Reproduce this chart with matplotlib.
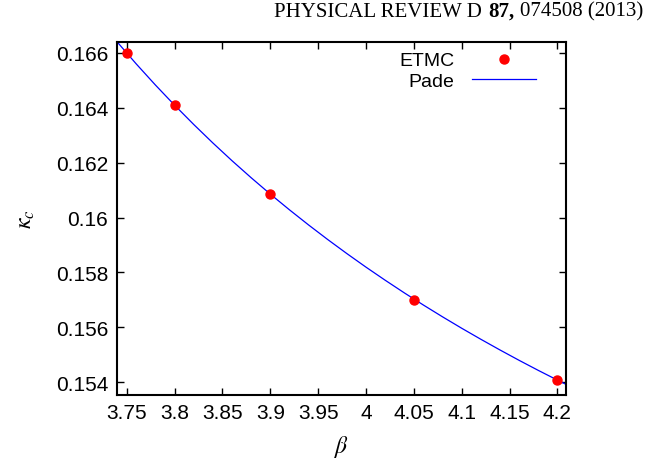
import matplotlib
matplotlib.use('Agg')
import matplotlib.pyplot as plt
from matplotlib.offsetbox import TextArea, HPacker, AnchoredOffsetbox

plt.rcParams['font.family'] = ['Liberation Sans', 'DejaVu Sans']
plt.rcParams['mathtext.fontset'] = 'stix'

# ETMC critical hopping parameter vs beta
beta_etmc = [3.75, 3.8, 3.9, 4.05, 4.2]
kappa_etmc = [0.165997, 0.164111, 0.160856, 0.157010, 0.154073]

# Pade curve, sampled along beta
beta_pade = [3.74, 3.76, 3.78, 3.80, 3.82, 3.84, 3.86, 3.88, 3.90, 3.92,
             3.94, 3.96, 3.98, 4.00, 4.02, 4.04, 4.06, 4.08, 4.10, 4.12,
             4.14, 4.16, 4.18, 4.20, 4.21]
kappa_pade = [0.166403, 0.165599, 0.164831, 0.164097, 0.163393, 0.162719,
              0.162072, 0.161452, 0.160855, 0.160282, 0.159730, 0.159198,
              0.158686, 0.158191, 0.157715, 0.157254, 0.156809, 0.156379,
              0.155963, 0.155561, 0.155171, 0.154793, 0.154427, 0.154073,
              0.153899]

xticks = [3.75, 3.8, 3.85, 3.9, 3.95, 4.0, 4.05, 4.1, 4.15, 4.2]
xticklabels = ['3.75', '3.8', '3.85', '3.9', '3.95', '4', '4.05', '4.1', '4.15', '4.2']
yticks = [0.154, 0.156, 0.158, 0.16, 0.162, 0.164, 0.166]
yticklabels = ['0.154', '0.156', '0.158', '0.16', '0.162', '0.164', '0.166']

fig = plt.figure(figsize=(6.5, 4.64), dpi=100)
ax = fig.add_axes([0.1795, 0.1472, 0.6913, 0.7601])

ax.plot(beta_etmc, kappa_etmc, 'o', color='red', markersize=6.5, label='ETMC', zorder=3)
ax.plot(beta_pade, kappa_pade, '-', color='blue', linewidth=0.9, label='Pade', zorder=2)

ax.set_xlim(3.7395, 4.209)
ax.set_ylim(0.15354, 0.1664)
ax.set_xticks(xticks)
ax.set_xticklabels(xticklabels)
ax.set_yticks(yticks)
ax.set_yticklabels(yticklabels)
ax.tick_params(direction='in', length=5, width=1, top=True, right=True,
               labelsize=15, pad=6)
for s in ax.spines.values():
    s.set_linewidth(1.5)

ax.set_xlabel(r'$\beta$', fontsize=17, labelpad=8)
ax.set_ylabel(r'$\kappa_c$', fontsize=17, labelpad=14)

leg = ax.legend(loc='upper right', frameon=False, markerfirst=False, fontsize=14,
                handlelength=3.3, handletextpad=0.9, borderaxespad=0.1,
                labelspacing=0.15, bbox_to_anchor=(0.955, 1.0))

# journal header, volume number in bold
hdr = dict(fontsize=15, family='Liberation Serif')
parts = [TextArea('PHYSICAL REVIEW D', textprops=hdr),
         TextArea('87,', textprops=dict(hdr, weight='bold')),
         TextArea('074508 (2013)', textprops=hdr)]
box = HPacker(children=parts, sep=4, pad=0, align='baseline')
fig.add_artist(AnchoredOffsetbox(loc='center right', child=box, pad=0, borderpad=0,
                                 frameon=False, bbox_to_anchor=(0.989, 0.975),
                                 bbox_transform=fig.transFigure))

fig.savefig('out.png', dpi=100)
